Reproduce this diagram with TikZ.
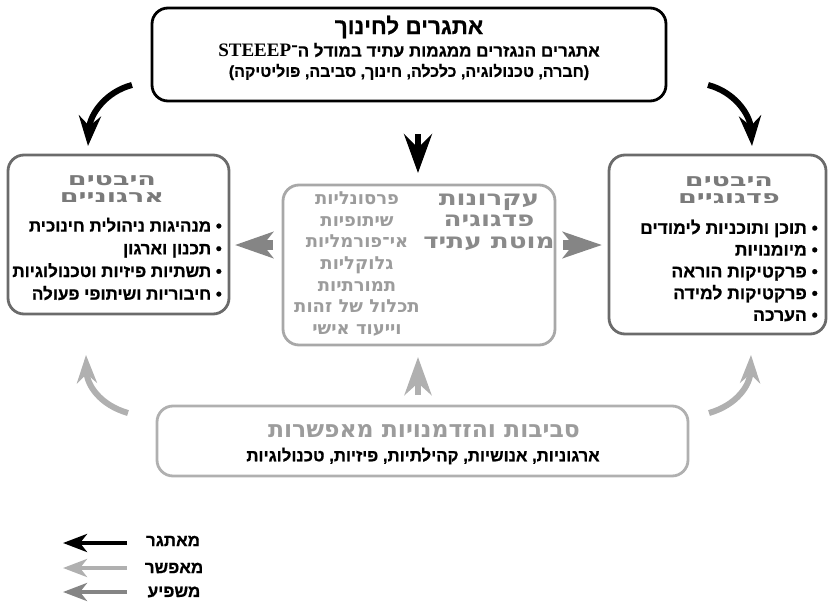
\documentclass[tikz,border=0pt]{standalone}
\usepackage{fontspec}
\usepackage{graphicx}
\setmainfont{Liberation Sans}
\newfontfamily\heb[Script=Hebrew, FakeBold=0.8]{Liberation Sans}
\newfontfamily\hebd[Script=Hebrew]{DejaVu Sans}
\newfontfamily\serifb{Liberation Serif}
\TeXXeTstate=1
\usetikzlibrary{arrows.meta}
\definecolor{dgray}{HTML}{6B6B6B}
\definecolor{tgray}{HTML}{7A7A7A}
\definecolor{cgray}{HTML}{A8A8A8}
\definecolor{ctext}{HTML}{9C9C9C}
\definecolor{ctitle}{HTML}{8A8A8A}
\definecolor{lgray}{HTML}{B0B0B0}
\definecolor{mgray}{HTML}{858585}
\tikzset{
  frame/.style={draw=#1, line width=2.8pt, rounded corners=16pt, inner sep=0pt},
  body/.style={font=\heb\bfseries\fontsize{17}{22.7}\selectfont, inner sep=0pt},
  ttl/.style={font=\hebd\bfseries\fontsize{18}{16.5}\selectfont, inner sep=0pt},
  bigcurve/.style={line width=6pt, -{Stealth[length=30pt, width=22pt, inset=10pt]}},
  leg/.style={line width=4pt, -{Stealth[length=24pt, width=18pt, inset=7pt]}},
}
\begin{document}
\begin{tikzpicture}[x=1pt, y=-1pt]
\useasboundingbox (0,0) rectangle (833,605);
% boxes
\node[frame=black, minimum width=514pt, minimum height=93pt] (top) at (409,54.5) {};
\node[frame=dgray, minimum width=221pt, minimum height=159pt] (left) at (118.5,234.5) {};
\node[frame=dgray, minimum width=217pt, minimum height=179pt] (right) at (717.5,244.5) {};
\node[frame=cgray, minimum width=272pt, minimum height=160pt] (center) at (419,265) {};
\node[frame=lgray, minimum width=531pt, minimum height=70pt] (bottom) at (422.5,441) {};
% top texts
\node[font=\heb\bfseries\fontsize{22.5}{28}\selectfont, inner sep=0pt] (toptitle) at (409,27) {\beginR אתגרים לחינוך\endR};
\node[font=\heb\bfseries\fontsize{17}{20}\selectfont, inner sep=0pt] (topsub) at (409,50) {\beginR אתגרים הנגזרים ממגמות עתיד במודל ה־\beginL{\serifb\fontsize{19}{20}\selectfont STEEEP}\endL\endR};
\node[font=\heb\bfseries\fontsize{16}{20}\selectfont, inner sep=0pt] (toplist) at (409,72) {\beginR (חברה, טכנולוגיה, כלכלה, חינוך, סביבה, פוליטיקה)\endR};
% left box
\node[ttl, text=tgray, align=center] (lefttitle) at (112,189) {\scalebox{1.5}[1]{\beginR היבטים\endR}\\\scalebox{1.5}[1]{\beginR ארגוניים\endR}};
\node[body, align=right, anchor=east] (leftlist) at (222,259) {\beginR •\ מנהיגות ניהולית חינוכית\endR\\\beginR •\ תכנון וארגון\endR\\\beginR •\ תשתיות פיזיות וטכנולוגיות\endR\\\beginR •\ חיבוריות ושיתופי פעולה\endR};
% right box
\node[ttl, text=tgray, align=center] (righttitle) at (729,190) {\scalebox{1.5}[1]{\beginR היבטים\endR}\\\scalebox{1.5}[1]{\beginR פדגוגיים\endR}};
\node[body, align=right, anchor=east, font=\heb\bfseries\fontsize{17.5}{21.75}\selectfont] (rightlist) at (818,270.5) {\beginR •\ תוכן ותוכניות לימודים\endR\\\beginR •\ מיומנויות\endR\\\beginR •\ פרקטיקות הוראה\endR\\\beginR •\ פרקטיקות למידה\endR\\\beginR •\ הערכה\endR};
% center box
\node[inner sep=0pt, font=\hebd\bfseries\fontsize{21}{21.5}\selectfont, text=ctitle, align=center] (ctitlenode) at (489,222) {\scalebox{1.25}[1]{\beginR עקרונות\endR}\\\scalebox{1.25}[1]{\beginR פדגוגיה\endR}\\\scalebox{1.25}[1]{\beginR מוטת עתיד\endR}};
\node[inner sep=0pt, font=\hebd\bfseries\fontsize{18}{21.7}\selectfont, text=ctext, align=center] (ccol) at (357,264) {\beginR פרסונליות\endR\\\beginR שיתופיות\endR\\\beginR אי־פורמליות\endR\\\beginR גלוקליות\endR\\\beginR תמורתיות\endR\\\beginR תכלול של זהות\endR\\\beginR וייעוד אישי\endR};
% bottom box
\node[inner sep=0pt, font=\hebd\bfseries\fontsize{23.5}{26}\selectfont, text=ctext] (bottomtitle) at (424,431) {\beginR סביבות והזדמנויות מאפשרות\endR};
\node[body, font=\heb\bfseries\fontsize{16.8}{20}\selectfont] (bottomsub) at (423,456) {\beginR ארגוניות, אנושיות, קהילתיות, פיזיות, טכנולוגיות\endR};
% arrow coordinates
\coordinate (bl1) at (132,85);   \coordinate (bl2) at (88,146);
\coordinate (br1) at (708,85);   \coordinate (br2) at (752,146);
\coordinate (cd1) at (418,134);  \coordinate (cd2) at (418,173);
\coordinate (gl1) at (273,245);  \coordinate (gl2) at (235,245);
\coordinate (gr1) at (563,245);  \coordinate (gr2) at (602,245);
\coordinate (ll1) at (128,413);  \coordinate (ll2) at (86,355);
\coordinate (lr1) at (709,413);  \coordinate (lr2) at (751,355);
\coordinate (cu1) at (418,395);  \coordinate (cu2) at (418,357);
% black curved arrows
\draw[bigcurve, black] (bl1) .. controls (105,92) and (90,115) .. (bl2);
\draw[bigcurve, black] (br1) .. controls (735,92) and (750,115) .. (br2);
\draw[black, line width=6pt, -{Stealth[length=39pt, width=28pt, inset=14pt]}] (cd1) -- (cd2);
% gray side arrows
\draw[mgray, line width=10pt, -{Stealth[length=38pt, width=26pt, inset=10pt]}] (gl1) -- (gl2);
\draw[mgray, line width=10pt, -{Stealth[length=39pt, width=26pt, inset=10pt]}] (gr1) -- (gr2);
% light gray arrows
\draw[lgray, line width=6pt, -{Stealth[length=28pt, width=20pt, inset=9pt]}] (ll1) .. controls (100,405) and (87,385) .. (ll2);
\draw[lgray, line width=6pt, -{Stealth[length=28pt, width=20pt, inset=9pt]}] (lr1) .. controls (737,405) and (750,385) .. (lr2);
\draw[lgray, line width=6pt, -{Stealth[length=38pt, width=27pt, inset=12pt]}] (cu1) -- (cu2);
% legend
\coordinate (k1a) at (127,543); \coordinate (k1b) at (63,543);
\coordinate (k2a) at (127,568); \coordinate (k2b) at (63,568);
\coordinate (k3a) at (127,592); \coordinate (k3b) at (63,592);
\draw[leg, black] (k1a) -- (k1b);
\draw[leg, lgray] (k2a) -- (k2b);
\draw[leg, mgray] (k3a) -- (k3b);
\node[body, font=\heb\bfseries\fontsize{17}{20}\selectfont] (l1) at (173,541) {\beginR מאתגר\endR};
\node[body, font=\heb\bfseries\fontsize{17}{20}\selectfont] (l2) at (174,568) {\beginR מאפשר\endR};
\node[body, font=\heb\bfseries\fontsize{17}{20}\selectfont] (l3) at (174,592) {\beginR משפיע\endR};
\end{tikzpicture}
\end{document}
